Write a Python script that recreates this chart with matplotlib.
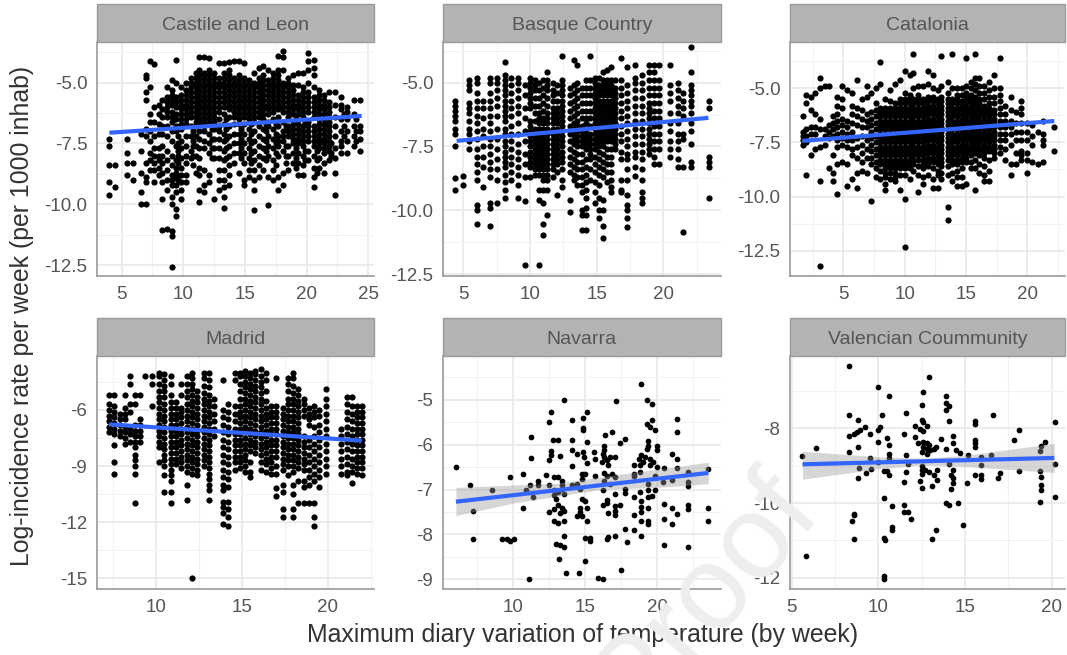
import matplotlib
matplotlib.use('Agg')
import matplotlib.pyplot as plt
from matplotlib.patches import Rectangle
from matplotlib.ticker import AutoMinorLocator

plt.rcParams['font.family'] = ['Liberation Sans', 'DejaVu Sans']
plt.rcParams['axes.unicode_minus'] = False

# values, (x, [y values at that x])
castile_cols = [
    (4.0, [-7.3, -7.6, -8.4, -9.1, -9.6]), (4.5, [-8.4, -9.3]), (5.4, [-7.3, -7.9, -8.3, -8.8]), (5.9, [-8.3, -9.0]),
    (6.6, [-7.1, -7.8, -8.7, -9.5, -10.0]), (7.0, [-4.7, -4.8, -5.4, -5.7, -6.9, -7.2, -8.3, -8.9, -9.1, -10.0]),
    (7.3, [-4.1, -5.2, -6.3, -6.6, -7.0, -7.4, -7.9, -8.2, -8.6]), (7.6, [-4.25, -6.0, -6.6, -7.2, -7.7, -8.0, -8.3, -8.6, -9.1]),
    (8.0, [-5.9, -6.3, -6.7, -7.1, -7.7, -8.0, -8.2, -8.5, -8.8]),
    (8.3, [-5.7, -6.1, -6.4, -6.8, -7.1, -7.6, -8.0, -8.3, -8.7, -9.1, -9.8, -11.05]),
    (8.7, [-5.2, -5.6, -5.8, -6.0, -6.2, -6.4, -6.8, -7.2, -7.8, -8.2, -8.6, -9.0, -9.4, -11.0]),
    (9.1, [-4.9, -5.3, -5.5, -5.7, -5.9, -6.2, -6.4, -6.6, -7.0, -7.4, -8.0, -8.4, -8.8, -9.0, -9.2, -9.7, -10.0, -11.1, -11.3, -12.6]),
    (9.4, [-4.05, -5.0, -5.6, -5.8, -6.0, -6.3, -6.5, -6.8, -7.0, -7.6, -8.2, -8.5, -8.7, -8.9, -9.2, -9.5, -10.2, -10.5]),
    (9.8, [-5.2, -5.5, -5.7, -5.9, -6.1, -6.3, -6.5, -6.7, -6.9, -7.4, -7.7, -8.1, -8.5, -8.8, -9.1, -9.4, -9.8]),
    (10.2, [-5.0, -5.3, -5.5, -5.7, -5.9, -6.1, -6.3, -6.5, -6.7, -7.2, -7.6, -8.0, -8.3, -8.8, -9.1]),
    (10.6, [-4.8, -5.0, -5.2, -5.4, -5.6, -5.8, -6.0, -6.2, -6.4, -6.8, -7.2, -7.8, -8.1]),
    (11.0, [-4.6, -4.8, -5.0, -5.2, -5.4, -5.6, -5.8, -6.0, -6.2, -6.4, -6.6, -6.8, -7.2, -7.6, -8.0, -8.7]),
    (11.3, [-3.95, -4.5, -4.7, -4.9, -5.1, -5.3, -5.5, -5.7, -5.9, -6.1, -6.3, -6.5, -6.7, -7.0, -7.3, -7.7, -8.1, -8.5, -8.8, -9.4, -9.9]),
    (11.7, [-3.95, -4.6, -4.8, -5.0, -5.2, -5.4, -5.6, -5.8, -6.0, -6.2, -6.4, -6.6, -6.8, -7.0, -7.4, -7.7, -8.6, -9.2, -9.5]),
    (12.1, [-4.0, -4.5, -4.7, -4.9, -5.1, -5.3, -5.5, -5.7, -5.9, -6.1, -6.3, -6.5, -6.7, -7.1, -7.5, -7.9, -8.8, -9.1]),
    (12.5, [-4.6, -4.8, -5.0, -5.2, -5.4, -5.6, -5.8, -6.0, -6.2, -6.4, -6.6, -6.9, -7.3, -7.7, -8.1, -9.8]),
    (12.9, [-4.2, -4.8, -5.0, -5.2, -5.4, -5.6, -5.8, -6.0, -6.2, -6.5, -6.8, -7.0, -7.3, -7.7, -8.1, -8.6, -9.0, -9.4]),
    (13.3, [-4.2, -4.6, -4.8, -5.0, -5.2, -5.4, -5.6, -5.8, -6.0, -6.3, -6.7, -7.1, -7.4, -7.8, -8.2, -8.6, -9.0, -9.3, -9.7, -10.15]),
    (13.7, [-4.15, -4.5, -4.7, -4.9, -5.1, -5.3, -5.5, -5.7, -5.9, -6.1, -6.4, -6.8, -7.2, -7.6, -8.0, -8.4, -8.8, -9.2]),
    (14.1, [-4.1, -4.8, -5.0, -5.2, -5.4, -5.6, -5.8, -6.0, -6.2, -6.4, -6.7, -7.1, -7.5, -7.9, -8.3]),
    (14.5, [-4.1, -4.7, -4.9, -5.1, -5.3, -5.5, -5.7, -5.9, -6.1, -6.3, -6.5, -6.7, -7.1, -7.5, -7.9, -8.7]),
    (14.9, [-4.2, -4.8, -5.0, -5.2, -5.4, -5.6, -5.8, -6.0, -6.2, -6.4, -6.7, -7.1, -7.5, -7.9, -8.3, -9.0, -9.2]),
    (15.3, [-4.9, -5.1, -5.3, -5.5, -5.7, -5.9, -6.1, -6.3, -6.5, -6.9, -7.3, -7.7, -8.1, -8.6, -8.9]),
    (15.7, [-4.6, -5.0, -5.2, -5.4, -5.6, -5.8, -6.0, -6.2, -6.4, -6.6, -7.0, -7.4, -7.8, -8.2, -8.6, -9.0, -9.4, -10.25]),
    (16.1, [-4.4, -4.8, -5.0, -5.2, -5.4, -5.6, -5.8, -6.0, -6.2, -6.4, -6.8, -7.2, -7.6, -8.0, -8.4, -8.9]),
    (16.5, [-4.3, -4.7, -4.9, -5.1, -5.3, -5.5, -5.7, -5.9, -6.1, -6.3, -6.5, -6.9, -7.3, -7.7, -8.1, -8.6]),
    (16.9, [-4.5, -4.9, -5.1, -5.3, -5.5, -5.7, -5.9, -6.1, -6.3, -6.6, -6.8, -7.2, -7.6, -8.0, -8.9, -10.05]),
    (17.3, [-4.6, -4.8, -5.0, -5.2, -5.4, -5.6, -5.8, -6.0, -6.2, -6.5, -6.9, -7.3, -7.7, -8.2, -8.6, -9.0]),
    (17.7, [-3.9, -4.5, -4.7, -4.9, -5.1, -5.3, -5.5, -5.7, -5.9, -6.1, -6.4, -6.8, -7.2, -7.4, -7.6, -8.0, -8.9, -9.4]),
    (18.1, [-3.7, -3.95, -4.5, -5.0, -5.2, -5.4, -5.6, -5.8, -6.0, -6.2, -6.6, -7.0, -7.2, -7.4, -7.8, -8.7, -9.2]),
    (18.5, [-4.8, -5.0, -5.2, -5.4, -5.6, -5.8, -6.0, -6.2, -6.4, -6.8, -7.0, -7.2, -7.6, -8.0, -8.6]),
    (18.9, [-4.7, -5.1, -5.3, -5.5, -5.7, -5.9, -6.1, -6.3, -6.7, -6.9, -7.1, -7.3, -7.5, -7.9, -8.3]),
    (19.3, [-4.6, -5.1, -5.5, -5.7, -5.9, -6.1, -6.3, -6.7, -6.9, -7.1, -7.3, -7.5, -7.9, -8.3, -8.8]),
    (19.7, [-4.6, -5.2, -5.4, -5.6, -5.8, -6.0, -6.2, -6.4, -6.8, -7.0, -7.2, -7.4, -7.6, -8.0, -8.4, -8.8]),
    (20.1, [-3.8, -4.1, -4.5, -5.0, -5.4, -5.6, -5.8, -6.0, -6.2, -6.6, -6.8, -7.0, -7.2, -7.4, -7.8, -8.2]),
    (20.6, [-4.05, -4.4, -4.7, -5.2, -5.6, -5.8, -6.0, -6.2, -6.4, -6.8, -7.0, -7.2, -7.4, -7.6, -8.0, -8.5, -8.9, -9.3]),
    (21.0, [-5.3, -5.5, -5.7, -5.9, -6.1, -6.3, -6.5, -6.7, -6.9, -7.1, -7.3, -7.5, -7.7, -8.1, -8.5]),
    (21.4, [-5.5, -5.7, -5.9, -6.1, -6.3, -6.5, -6.7, -6.9, -7.1, -7.3, -7.5, -7.7, -7.9, -8.3, -8.7]),
    (21.8, [-5.4, -5.8, -6.0, -6.2, -6.4, -6.6, -6.8, -7.0, -7.2, -7.4, -7.6, -7.8, -8.2]),
    (22.3, [-5.4, -5.9, -6.4, -6.8, -7.2, -7.7, -8.1, -8.7, -9.6]),
    (22.8, [-5.6, -5.9, -6.1, -6.5, -7.0, -7.4, -7.6, -7.9]), (23.3, [-6.0, -6.2, -6.5, -7.0, -7.4, -7.9]),
    (23.8, [-5.7, -6.3, -6.8, -7.2, -7.6]), (24.3, [-5.7, -6.8, -7.0, -7.3, -7.8]),
    # lower part of the cloud
    (9.6, [-7.2, -7.5, -7.8, -8.0, -8.3, -9.0]), (10.8, [-7.0, -7.4, -7.6, -8.0, -8.4]), (12.3, [-6.9, -7.3, -7.7, -8.1]),
    (13.5, [-6.5, -6.9, -7.3, -7.7, -8.1]), (14.7, [-6.9, -7.3, -7.7, -8.1]), (15.5, [-6.7, -7.1, -7.5, -7.9, -8.3]),
    (16.7, [-6.7, -7.0, -7.4, -7.8, -8.2]), (17.5, [-6.7, -7.1, -7.5, -7.9, -8.4]), (18.3, [-6.8, -7.6, -8.0, -8.3]),
    (19.1, [-6.5, -7.7, -8.1, -8.5]), (19.9, [-6.6, -7.8, -8.2]), (20.8, [-7.8, -8.2, -8.7]), (22.0, [-7.5, -7.9, -8.0]),
    (23.0, [-6.3, -6.8, -7.2]), (24.0, [-6.5, -7.0, -7.4]),
]
basque_cols = [
    (4.4, [-5.7, -5.9, -6.1, -6.3, -6.5, -6.8, -7.0, -7.5, -8.75, -9.2]), (5.0, [-8.65, -9.0]),
    (5.4, [-4.9, -5.1, -5.3, -5.8, -6.0, -6.2, -6.5, -6.8, -7.0, -7.3, -7.6]),
    (6.0, [-4.8, -5.0, -5.4, -5.7, -6.0, -6.3, -6.6, -6.9, -7.2, -7.6, -7.9, -8.2, -8.5, -8.8, -9.8, -10.0, -10.55]),
    (6.5, [-5.7, -6.0, -6.4, -6.8, -7.1, -7.5, -7.9, -8.3, -9.1]),
    (7.0, [-4.8, -5.0, -5.4, -5.7, -6.0, -6.3, -6.6, -6.9, -7.2, -7.5, -7.8, -8.1, -8.4, -8.7, -9.7, -9.9, -10.6]),
    (7.5, [-4.8, -5.0, -5.3, -5.6, -5.9, -6.3, -6.8, -7.2, -7.6, -8.0, -8.4, -8.8, -9.7]),
    (8.1, [-4.2, -4.7, -4.9, -5.1, -5.3, -5.5, -5.7, -5.9, -6.1, -6.3, -6.5, -6.8, -7.0, -7.3, -7.5, -7.7, -7.9, -8.1, -8.3, -8.6, -8.9, -9.2, -9.5]),
    (8.6, [-4.8, -5.1, -5.4, -5.7, -6.0, -6.3, -6.7, -7.0, -7.3, -7.6, -7.9, -8.2, -8.5, -8.8]),
    (9.1, [-4.8, -5.0, -5.3, -5.6, -5.9, -6.2, -6.6, -7.0, -7.4, -7.7, -8.0, -8.3, -8.6, -9.0, -9.5]),
    (9.6, [-5.1, -5.5, -6.0, -6.4, -6.9, -7.3, -7.8, -8.2, -8.7, -9.65, -12.15]),
    (10.0, [-4.8, -5.0, -5.2, -5.4, -5.6, -5.8, -6.0, -6.5, -6.7, -6.9, -7.1, -7.3, -7.5, -7.7, -7.9, -8.1, -8.3, -8.7]),
    (10.4, [-4.9, -5.1, -5.3, -5.6, -5.9, -6.2, -6.5, -6.8, -7.0, -7.2, -7.4, -7.6, -7.8, -8.0, -8.2, -8.4, -8.6]),
    (10.7, [-5.0, -5.3, -5.6, -5.9, -6.2, -6.4, -6.6, -6.8, -7.0, -7.2, -7.4, -7.6, -7.8, -8.0, -8.2, -8.4, -8.6, -9.2, -9.6, -12.15]),
    (10.95, [-4.9, -5.2, -5.5, -5.8, -6.1, -6.4, -6.6, -6.8, -7.0, -7.2, -7.4, -7.6, -7.8, -8.0, -8.2, -8.4, -8.6, -8.8, -9.2, -9.7, -10.55, -10.95]),
    (11.3, [-4.6, -4.9, -5.1, -5.3, -5.6, -5.9, -6.2, -6.4, -6.6, -6.8, -7.0, -7.2, -7.4, -7.6, -7.8, -8.0, -8.2, -8.4, -8.6, -8.8, -9.2, -10.2]),
    (11.7, [-5.0, -5.3, -5.5, -5.7, -6.0, -6.2, -6.4, -6.6, -6.8, -7.0, -7.2, -7.4, -7.6, -7.8, -8.0, -8.2, -8.4, -8.7]),
    (12.0, [-5.1, -5.4, -5.7, -6.0, -6.2, -6.4, -6.6, -6.8, -7.0, -7.2, -7.4, -7.6, -7.8, -8.0, -8.2, -8.5, -9.4]),
    (12.4, [-3.95, -4.9, -5.1, -5.3, -5.5, -5.7, -5.9, -6.1, -6.3, -6.5, -6.7, -6.9, -7.1, -7.3, -7.5, -7.7, -7.9, -8.1, -8.4, -8.8, -9.1]),
    (13.0, [-5.2, -5.5, -5.8, -6.1, -6.4, -6.7, -7.0, -7.3, -7.6, -7.9, -8.2, -8.5, -9.6, -10.05]),
    (13.3, [-4.1, -5.1, -5.4, -5.7, -6.0, -6.3, -6.6, -6.8, -7.0, -7.2, -7.4, -7.7, -8.0, -8.3, -8.6, -8.8]),
    (13.5, [-4.3, -5.0, -5.3, -5.6, -5.9, -6.2, -6.5, -6.7, -6.9, -7.1, -7.3, -7.5, -7.8, -8.1, -8.4, -8.7, -9.0]),
    (13.9, [-5.2, -5.5, -5.8, -6.1, -6.4, -6.7, -6.9, -7.1, -7.3, -7.5, -7.8, -8.1, -8.4, -8.7, -9.0, -9.3, -10.0, -10.2, -10.75]),
    (14.2, [-4.9, -5.2, -5.5, -5.8, -6.1, -6.4, -6.6, -6.8, -7.0, -7.2, -7.4, -7.6, -8.0, -8.3, -8.6, -8.9, -9.2, -9.5, -9.9, -10.2, -10.75]),
    (14.5, [-3.95, -4.9, -5.2, -5.5, -5.8, -6.1, -6.4, -6.7, -7.0, -7.2, -7.4, -7.6, -7.8, -8.0, -8.4, -8.8]),
    (14.9, [-4.8, -5.0, -5.2, -5.4, -5.6, -5.8, -6.0, -6.2, -6.4, -6.6, -6.8, -7.0, -7.2, -7.4, -7.6, -7.9, -8.2, -8.5, -8.9, -9.3, -9.7]),
    (15.2, [-4.8, -5.1, -5.3, -5.5, -5.7, -5.9, -6.1, -6.3, -6.5, -6.7, -6.9, -7.1, -7.3, -7.5, -7.7, -8.0, -8.3, -8.6, -9.0, -9.5, -10.0, -10.3]),
    (15.5, [-4.6, -4.9, -5.1, -5.3, -5.5, -5.7, -5.9, -6.1, -6.3, -6.5, -6.7, -6.9, -7.1, -7.3, -7.5, -7.8, -8.1, -8.4, -8.7, -9.6, -10.0, -10.6, -11.1]),
    (15.8, [-4.5, -4.9, -5.1, -5.3, -5.5, -5.7, -5.9, -6.1, -6.3, -6.5, -6.7, -6.9, -7.1, -7.3, -7.6, -7.9, -8.2, -8.5, -8.9]),
    (16.1, [-4.4, -4.9, -5.1, -5.3, -5.5, -5.7, -5.9, -6.1, -6.3, -6.5, -6.7, -6.9, -7.1, -7.3, -7.6, -7.9, -8.2, -8.5, -8.8, -9.1, -9.3]),
    (16.4, [-4.9, -5.2, -5.4, -5.6, -5.8, -6.0, -6.2, -6.4, -6.6, -6.8, -7.0, -7.2, -7.4, -7.6]),
    (16.8, [-4.05, -4.9, -5.2, -5.5, -5.8, -6.1, -6.4, -6.7, -7.0, -7.3, -7.7, -8.0, -8.8, -9.2, -9.3]),
    (17.3, [-4.4, -5.1, -5.4, -5.7, -6.0, -6.3, -6.6, -6.9, -7.2, -7.5, -7.8, -8.0, -8.4, -8.8, -9.4, -9.8, -10.0, -10.3, -10.65]),
    (17.9, [-4.3, -4.8, -5.0, -5.3, -5.6, -5.9, -6.2, -6.5, -6.8, -7.1, -7.4, -7.7, -7.9, -8.3, -8.65]),
    (18.4, [-4.7, -5.0, -5.3, -5.6, -5.9, -6.2, -6.5, -6.8, -7.1, -7.4, -7.7, -8.0, -8.4, -8.8, -9.3, -9.5, -9.7]),
    (18.9, [-4.3, -4.6, -4.9, -5.2, -5.5, -5.8, -6.0, -6.2, -6.4, -6.6, -6.8, -7.0, -7.2, -7.4, -7.6, -7.8]),
    (19.3, [-4.3, -4.6, -4.9, -5.2, -5.5, -5.8, -6.1, -6.4, -6.7, -7.0, -7.3, -7.6, -7.9, -8.2]),
    (19.7, [-4.3, -4.9, -5.2, -5.5, -5.8, -6.1, -6.4, -6.7, -7.0, -7.3, -7.6, -8.2]),
    (20.5, [-4.3, -5.1, -5.4, -5.7, -6.2, -6.6, -6.9, -7.3, -7.6, -7.9]),
    (21.1, [-5.0, -5.3, -5.6, -5.9, -6.2, -6.6, -7.0, -7.3, -7.6, -8.0, -8.3]),
    (21.5, [-5.4, -5.7, -6.0, -6.3, -7.0, -7.2, -8.3, -10.85]),
    (22.1, [-3.6, -4.6, -5.1, -5.3, -5.5, -5.7, -5.9, -6.2, -6.6, -6.9, -7.4, -8.1, -8.3]),
    (23.4, [-5.7, -6.0, -7.9, -8.1, -8.3, -9.5]),
]
catalonia_cols = [
    (1.7, [-6.3, -7.0, -7.2, -7.4, -7.6]), (2.0, [-5.3, -5.7, -6.9, -7.2, -7.5, -9.0]), (2.4, [-5.4, -6.0, -6.8, -7.1, -8.1]),
    (2.7, [-5.2, -6.2, -6.8, -7.1, -7.8]), (3.1, [-4.5, -5.0, -6.4, -6.9, -7.7, -9.3, -13.2]), (3.5, [-4.9, -6.9, -7.2, -7.6]),
    (3.8, [-4.9, -6.7, -7.0, -7.3, -8.7]), (4.2, [-6.3, -6.6, -6.9, -7.2, -8.1, -8.9, -9.3]),
    (4.5, [-5.4, -5.8, -6.2, -6.5, -6.8, -7.1, -7.4, -7.7, -8.5, -9.9]), (4.9, [-4.9, -5.5, -5.9, -6.4, -6.7, -7.0, -7.3, -7.6, -8.4]),
    (5.3, [-5.1, -6.5, -6.8, -7.1, -7.4, -7.7, -8.5, -9.5]), (5.7, [-5.2, -5.8, -6.2, -6.6, -7.0, -7.4, -7.8, -8.1, -9.2]),
    (6.1, [-4.6, -5.9, -6.3, -6.7, -7.3, -7.7, -8.2, -8.9, -9.6]), (6.5, [-5.5, -6.0, -6.4, -6.8, -7.2, -7.6, -8.0, -8.4, -8.8]),
    (6.9, [-4.9, -5.4, -6.2, -6.5, -6.8, -7.4, -7.8, -8.2, -8.9]), (7.3, [-5.2, -6.1, -6.4, -6.7, -7.0, -7.3, -7.6, -7.9, -8.2, -8.5, -10.2]),
    (7.7, [-5.0, -5.7, -6.0, -6.3, -6.6, -6.9, -7.2, -7.5, -7.8, -8.1, -8.4, -8.7, -9.1]),
    (8.0, [-3.8, -4.8, -5.9, -6.1, -6.3, -6.5, -6.7, -6.9, -7.1, -7.3, -7.5, -7.7, -7.9, -8.1, -8.3, -8.5, -8.8, -9.2]),
    (8.4, [-5.5, -5.9, -6.1, -6.3, -6.5, -6.7, -6.9, -7.1, -7.3, -7.5, -7.7, -7.9, -8.1, -8.3, -8.5, -8.7, -8.9, -9.1, -9.4, -9.7]),
    (8.8, [-5.1, -5.6, -5.9, -6.1, -6.3, -6.5, -6.7, -6.9, -7.1, -7.3, -7.5, -7.7, -7.9, -8.1, -8.3, -8.5, -8.7, -8.9, -9.2]),
    (9.2, [-4.8, -5.7, -5.9, -6.1, -6.3, -6.5, -6.7, -6.9, -7.1, -7.3, -7.5, -7.7, -7.9, -8.1, -8.3, -8.5, -8.7, -8.9, -9.1, -9.3]),
    (9.6, [-4.6, -5.5, -5.7, -5.9, -6.1, -6.3, -6.5, -6.7, -6.9, -7.1, -7.3, -7.5, -7.7, -7.9, -8.1, -8.3, -8.5, -8.7, -9.0, -9.7]),
    (10.0, [-4.2, -5.2, -5.5, -5.7, -5.9, -6.1, -6.3, -6.5, -6.7, -6.9, -7.1, -7.3, -7.5, -7.7, -7.9, -8.1, -8.3, -8.5, -8.7, -9.0, -10.1, -12.35]),
    (10.4, [-4.4, -5.3, -5.5, -5.7, -5.9, -6.1, -6.3, -6.5, -6.7, -6.9, -7.1, -7.3, -7.5, -7.7, -7.9, -8.1, -8.3, -8.5, -8.7, -9.2]),
    (10.7, [-3.4, -4.3, -5.0, -5.5, -5.7, -5.9, -6.1, -6.3, -6.5, -6.7, -6.9, -7.1, -7.3, -7.5, -7.7, -7.9, -8.1, -8.3, -8.5, -8.8]),
    (11.1, [-4.9, -5.3, -5.5, -5.7, -5.9, -6.1, -6.3, -6.5, -6.7, -6.9, -7.1, -7.3, -7.5, -7.7, -7.9, -8.1, -8.3, -8.6, -9.0, -9.8]),
    (11.5, [-4.9, -5.5, -5.7, -5.9, -6.1, -6.3, -6.5, -6.7, -6.9, -7.1, -7.3, -7.5, -7.7, -7.9, -8.1, -8.3, -8.5, -8.7, -9.1, -9.4]),
    (11.9, [-4.2, -4.8, -5.4, -5.6, -5.8, -6.0, -6.2, -6.4, -6.6, -6.8, -7.0, -7.2, -7.4, -7.6, -7.8, -8.0, -8.2, -8.4, -8.6, -9.0]),
    (12.3, [-4.4, -5.0, -5.4, -5.6, -5.8, -6.0, -6.2, -6.4, -6.6, -6.8, -7.0, -7.2, -7.4, -7.6, -7.8, -8.0, -8.2, -8.4, -8.7, -9.2, -9.6]),
    (12.7, [-5.1, -5.5, -5.7, -5.9, -6.1, -6.3, -6.5, -6.7, -6.9, -7.1, -7.3, -7.5, -7.7, -7.9, -8.1, -8.3, -8.5, -8.8, -9.0, -9.6]),
    (13.0, [-3.5, -4.9, -5.4, -5.6, -5.8, -6.0, -6.2, -6.4, -6.6, -6.8, -7.0, -7.2, -7.4, -7.6, -7.8, -8.0, -8.2, -8.4, -8.6, -8.9, -9.2]),
    (13.5, [-4.7, -5.2, -5.5, -5.7, -5.9, -6.1, -6.3, -6.5, -6.7, -6.9, -7.1, -7.3, -7.5, -7.7, -7.9, -8.1, -8.3, -8.6, -9.0, -10.5, -11.1]),
    (13.9, [-3.4, -5.0, -5.5, -5.7, -5.9, -6.1, -6.3, -6.5, -6.7, -6.9, -7.1, -7.3, -7.5, -7.7, -7.9, -8.1, -8.3, -8.5, -8.9, -9.3]),
    (14.3, [-5.0, -5.3, -5.5, -5.7, -5.9, -6.1, -6.3, -6.5, -6.7, -6.9, -7.1, -7.3, -7.5, -7.7, -7.9, -8.1, -8.3, -8.5, -8.8, -9.1, -9.5]),
    (14.7, [-5.0, -5.3, -5.6, -5.8, -6.0, -6.2, -6.4, -6.6, -6.8, -7.0, -7.2, -7.4, -7.6, -7.8, -8.0, -8.2, -8.4, -8.7, -9.1, -9.5]),
    (15.0, [-3.6, -4.9, -5.2, -5.4, -5.6, -5.8, -6.0, -6.2, -6.4, -6.6, -6.8, -7.0, -7.2, -7.4, -7.6, -7.8, -8.0, -8.2, -8.4, -9.4]),
    (15.4, [-4.7, -5.0, -5.3, -5.5, -5.7, -5.9, -6.1, -6.3, -6.5, -6.7, -6.9, -7.1, -7.3, -7.5, -7.7, -7.9, -8.1, -8.4, -8.7]),
    (15.7, [-3.4, -4.5, -4.8, -5.1, -5.4, -5.6, -5.8, -6.0, -6.2, -6.4, -6.6, -6.8, -7.0, -7.2, -7.4, -7.6, -7.8, -8.0, -8.3, -8.7, -9.7]),
    (16.1, [-4.5, -4.9, -5.2, -5.5, -5.7, -5.9, -6.1, -6.3, -6.5, -6.7, -6.9, -7.1, -7.3, -7.5, -7.7, -7.9, -8.1, -8.5, -8.9]),
    (16.5, [-4.9, -5.2, -5.5, -5.8, -6.0, -6.2, -6.4, -6.6, -6.8, -7.0, -7.2, -7.4, -7.6, -7.8, -8.0, -8.2, -8.6, -9.0, -9.3]),
    (16.9, [-4.7, -5.1, -5.4, -5.7, -5.9, -6.1, -6.3, -6.5, -6.7, -6.9, -7.1, -7.3, -7.5, -7.7, -7.9, -8.3, -8.8, -9.3]),
    (17.3, [-4.4, -5.0, -5.4, -5.7, -6.0, -6.2, -6.4, -6.6, -6.8, -7.0, -7.2, -7.4, -7.6, -7.8, -8.0, -8.2]),
    (17.8, [-3.6, -5.0, -5.3, -5.6, -5.9, -6.2, -6.5, -6.8, -7.1, -7.4, -7.7, -8.0]),
    (18.2, [-5.8, -6.2, -6.5, -6.8, -7.1, -7.4, -7.8, -8.3]), (18.7, [-5.4, -6.0, -6.5, -6.8, -7.1, -7.6, -8.5, -9.0]),
    (19.1, [-6.1, -6.6, -7.0, -7.4, -8.0, -8.5]), (19.5, [-5.6, -5.9, -6.2, -6.6, -7.0, -7.4, -7.9, -8.1, -8.3]),
    (20.0, [-6.6, -7.0, -7.4, -8.0, -8.3, -8.9]), (20.4, [-6.7, -7.2, -7.6, -8.4]), (20.9, [-7.0, -8.5]),
    (21.3, [-6.5, -7.1, -7.4, -7.6, -8.4]), (22.2, [-6.8, -7.9]),
]
madrid_cols = [
    (7.3, [-5.2, -5.7, -6.0, -6.3, -6.6, -6.9, -7.2]), (7.6, [-5.2, -5.8, -6.1, -6.4, -6.7, -7.0, -7.3, -7.9, -8.8, -9.4]),
    (7.9, [-6.2, -6.5, -6.8, -7.1, -7.4]), (8.2, [-5.2, -5.9, -6.2, -6.5, -6.9, -7.2, -7.5, -7.8]),
    (8.5, [-4.2, -4.6, -5.7, -6.1, -7.0, -7.3, -7.7]), (8.8, [-5.2, -5.7, -6.8, -7.1, -7.4, -7.7, -8.0, -8.4, -8.7, -9.0, -9.4, -11.0]),
    (9.1, [-5.2, -6.5, -6.8, -7.1, -7.4, -7.7]), (9.4, [-4.2]), (9.8, [-4.2, -4.6, -5.8]),
    (10.2, [-4.0, -4.2, -4.6, -5.0, -5.3, -5.6, -5.9, -6.2, -6.5, -6.8, -7.1, -7.4, -7.7, -8.0, -8.8]),
    (10.5, [-4.1, -4.4, -4.7, -5.0, -5.3, -5.7, -6.0, -6.3, -6.6, -6.9, -7.2, -7.5, -7.8, -8.1, -8.4, -8.7, -9.0, -9.5, -10.4]),
    (10.9, [-4.2, -4.6, -5.2, -5.6, -5.9, -6.2, -6.5, -6.8, -7.1, -7.4, -7.7, -8.0, -8.3, -8.6, -8.9, -9.2, -9.5, -9.8, -10.4, -11.0]),
    (11.2, [-5.6, -5.9, -6.2, -6.5, -6.8, -7.1, -7.4, -7.7, -8.0, -8.3, -8.6, -8.9]),
    (11.5, [-4.6, -5.2, -5.9, -6.1, -6.4, -6.7, -7.0, -7.3, -7.6, -7.9, -8.2, -8.5, -8.8, -9.1]),
    (11.8, [-4.2, -4.6, -5.0, -5.3, -5.7, -6.0, -6.3, -6.6, -6.9, -7.2, -7.5, -7.8, -8.1, -8.4, -8.7, -9.0, -9.3, -10.0, -10.8]),
    (12.1, [-4.0, -4.3, -4.6, -4.9, -5.2, -5.5, -5.8, -6.1, -6.4, -6.7, -7.0, -7.3, -7.6, -7.9, -8.2, -8.5, -8.8, -9.1, -9.4, -15.0]),
    (12.4, [-5.0, -5.3, -5.6, -5.9, -6.2, -6.5, -6.8, -7.1, -7.4, -7.7, -8.0, -8.3, -8.6, -8.9, -9.2, -9.5]),
    (12.8, [-4.0, -4.3, -4.7, -5.1, -5.4, -5.7, -6.0, -6.3, -6.6, -6.9, -7.2, -7.5, -7.8, -8.1, -8.4, -8.7, -9.0]),
    (13.1, [-4.0, -4.4, -4.8, -5.2, -5.5, -5.8, -6.1, -6.4, -6.7, -7.0, -7.3, -7.6, -7.9, -8.2, -8.5, -8.8, -9.1, -9.4, -9.7, -10.0, -10.3, -10.8]),
    (13.4, [-5.4, -5.8, -6.2, -6.6, -7.0, -7.4]),
    (13.9, [-4.4, -6.0, -6.4, -6.8, -7.2, -7.6, -8.0, -8.4, -8.8, -9.2, -9.6, -10.0, -10.3, -10.9, -11.2, -11.5, -12.1]),
    (14.2, [-5.7, -6.1, -6.5, -6.9, -7.3, -7.7, -8.1, -8.5, -8.9, -9.3, -9.7, -10.1, -10.9, -11.3, -11.7, -12.2]),
    (14.6, [-4.0, -4.4, -5.8, -6.2, -6.6, -7.0, -7.3, -7.6, -7.9, -8.2, -8.5, -8.8, -9.2]),
    (14.9, [-4.0, -4.2, -4.6, -5.0, -5.4, -5.8, -6.1, -6.4, -6.7, -7.0, -7.3, -7.6, -7.9, -8.2, -8.5, -8.8, -9.1]),
    (15.2, [-3.9, -4.2, -4.5, -4.8, -5.1, -5.4, -5.7, -6.0, -6.3, -6.6, -6.9, -7.2, -7.5, -7.8, -8.1, -8.4, -8.7, -9.0, -9.3]),
    (15.5, [-4.0, -4.3, -4.6, -4.9, -5.2, -5.5, -5.8, -6.1, -6.4, -6.7, -7.0, -7.3, -7.6, -7.9, -8.2, -8.8, -9.3, -9.6]),
    (15.8, [-3.9, -4.1, -4.4, -4.7, -5.0, -5.3, -5.6, -5.9, -6.2, -6.5, -6.8, -7.1, -7.4, -7.7, -8.0, -8.3]),
    (16.1, [-3.8, -4.2, -4.5, -4.8, -5.1, -5.4, -5.7, -6.0, -6.3, -6.6, -6.9, -7.2, -7.5, -7.8, -8.1, -8.4, -8.8, -9.2]),
    (16.4, [-4.0, -4.4, -5.0, -5.5, -5.9, -6.2, -6.5, -6.8, -7.1, -7.4, -7.7, -8.0, -8.3, -8.6, -8.9, -9.3]),
    (16.7, [-5.8, -6.1, -6.4, -6.7, -7.0, -7.3, -7.6, -7.9, -8.2, -8.5, -8.8, -9.1, -9.4]),
    (17.0, [-4.3, -5.8, -6.1, -6.4, -6.7, -7.0, -7.3, -7.6, -7.9, -8.2, -8.5, -9.0, -9.4, -10.2, -10.6]),
    (17.4, [-5.9, -6.2, -6.5, -6.8, -7.1, -7.4, -7.7, -8.0, -8.3, -8.6, -8.9, -9.2, -10.0, -10.4, -11.3, -11.7]),
    (17.7, [-4.3, -4.6, -5.0, -5.4, -5.7, -6.0, -6.3, -6.6, -6.9, -7.2, -7.5, -7.8, -8.1, -8.4, -8.7, -9.0, -9.5]),
    (18.0, [-4.0, -4.3, -4.7, -5.1, -5.4, -5.7, -6.0, -6.3, -6.6, -6.9, -7.2, -7.5, -7.8, -8.1, -8.4, -8.7, -9.0, -9.3, -10.0, -10.5, -11.3, -11.7]),
    (18.3, [-4.9, -5.2, -5.5, -5.8, -6.1, -6.4, -6.7, -7.0, -7.3, -7.6, -7.9, -8.2, -8.5, -8.8, -9.1, -9.8, -11.0]),
    (18.6, [-5.4, -5.7, -6.0, -6.3, -7.4, -7.7, -8.0, -8.3, -8.6, -8.9, -9.2, -9.8, -10.1, -11.0]),
    (18.9, [-5.9, -6.2, -6.5, -6.8, -7.6, -8.0, -8.4, -8.8, -9.2, -9.6, -10.0, -11.0]),
    (19.2, [-5.8, -6.1, -6.4, -6.9, -7.4, -7.8, -8.2, -8.6, -9.0, -9.4, -9.8, -11.0, -11.7, -12.2]),
    (19.5, [-6.0, -6.3, -6.8, -7.2, -7.6, -8.0, -8.4, -8.8, -9.2, -9.6, -10.1]),
    (19.9, [-4.9, -5.4, -5.8, -6.2, -6.6, -7.0, -7.4, -7.8, -8.2, -8.6, -9.0, -9.4]),
    (20.8, [-7.0, -7.4, -7.8, -8.2, -8.6, -9.0, -9.4]), (21.1, [-5.3, -5.7, -6.1, -6.5, -6.9, -7.3, -7.7, -8.1, -8.5, -8.9, -9.3, -9.5]),
    (21.4, [-5.3, -5.8, -6.2, -6.6, -7.0, -7.4, -7.8, -8.2, -8.6, -9.0, -9.3, -9.9]),
    (21.7, [-5.8, -6.1, -6.4, -6.7, -7.0, -7.3, -7.6, -7.9, -8.2, -8.5, -8.8, -9.1, -9.4]),
    (22.0, [-5.8, -6.1, -6.4, -6.7, -7.0, -7.3, -7.6, -7.9, -8.2, -8.5, -8.8, -9.1, -9.5]),
]
navarra_pts = [
    (18.9, -4.64), (19.3, -5.0), (19.65, -5.1), (17.1, -5.03), (13.5, -5.0), (12.65, -5.28), (12.45, -5.49), (15.1, -5.27),
    (14.85, -5.41), (14.05, -5.45), (21.35, -5.42), (19.65, -5.45), (19.25, -5.53), (19.5, -5.6), (19.85, -5.67), (21.35, -5.71),
    (14.85, -5.62), (14.85, -5.68), (11.25, -5.83), (12.75, -5.9), (13.1, -5.9), (14.05, -5.9), (15.1, -5.95), (16.35, -5.79),
    (16.85, -5.72), (17.75, -5.87), (17.4, -5.96), (19.35, -5.92), (19.35, -6.02), (19.25, -6.09), (19.95, -6.02), (19.95, -6.13),
    (14.05, -6.11), (12.65, -6.15), (15.6, -6.17), (14.85, -6.17), (16.3, -6.02), (16.3, -6.13), (21.05, -6.2), (21.35, -6.31),
    (11.25, -6.29), (12.65, -6.24), (12.45, -6.35), (13.25, -6.25), (14.45, -6.2), (14.9, -6.28), (15.65, -6.31), (16.2, -6.2),
    (16.3, -6.28), (16.5, -6.35), (16.7, -6.28), (17.05, -6.28), (16.15, -6.39), (16.6, -6.46), (18.9, -6.22), (19.15, -6.28),
    (18.7, -6.31), (19.5, -6.31), (19.0, -6.39), (19.7, -6.39), (18.35, -6.46), (18.8, -6.46), (19.5, -6.46), (19.95, -6.49),
    (6.0, -6.49), (14.05, -6.47), (15.1, -6.41), (20.45, -6.52), (21.35, -6.52), (23.55, -6.55), (22.15, -6.61), (10.7, -6.65),
    (9.75, -6.72), (12.25, -6.67), (12.8, -6.72), (13.1, -6.72), (13.4, -6.8), (14.75, -6.65), (15.0, -6.65), (14.75, -6.76),
    (15.65, -6.7), (16.3, -6.63), (16.5, -6.7), (16.85, -6.65), (17.05, -6.72), (18.35, -6.65), (18.35, -6.7), (18.8, -6.61),
    (19.85, -6.7), (20.4, -6.83), (21.0, -6.78), (11.75, -6.8), (11.75, -6.89), (11.15, -6.89), (12.45, -6.89), (14.05, -6.89),
    (14.4, -6.87), (14.65, -6.99), (13.4, -6.89), (13.4, -6.99), (16.3, -6.8), (16.7, -6.87), (19.35, -6.87), (22.15, -6.84),
    (22.15, -6.93), (7.0, -6.9), (8.55, -7.01), (10.9, -7.0), (11.4, -7.17), (12.8, -7.02), (12.8, -7.13), (13.1, -7.06),
    (13.5, -7.1), (16.25, -7.01), (17.75, -6.99), (17.75, -7.08), (17.05, -7.1), (18.8, -7.06), (19.35, -7.02), (19.85, -7.02),
    (19.35, -7.16), (19.6, -7.14), (18.35, -7.17), (13.0, -7.21), (14.75, -7.21), (15.0, -7.25), (16.5, -7.23), (18.9, -7.25),
    (20.45, -7.32), (22.15, -7.34), (22.15, -7.43), (7.2, -7.47), (10.7, -7.41), (12.45, -7.49), (12.8, -7.43), (13.1, -7.34),
    (13.4, -7.4), (13.5, -7.47), (13.25, -7.52), (14.65, -7.41), (15.1, -7.41), (14.65, -7.51), (14.4, -7.58), (14.75, -7.58),
    (16.25, -7.34), (16.5, -7.31), (17.05, -7.36), (17.4, -7.34), (17.05, -7.47), (17.05, -7.56), (16.6, -7.52), (18.9, -7.39),
    (19.35, -7.42), (18.9, -7.51), (18.35, -7.56), (18.9, -7.69), (19.35, -7.69), (19.35, -7.77), (21.05, -7.42), (21.35, -7.54),
    (21.05, -7.77), (20.45, -7.66), (23.55, -7.41), (23.55, -7.71), (12.8, -7.71), (13.1, -7.75), (13.5, -7.69), (15.1, -7.71),
    (7.2, -8.1), (9.2, -8.1), (9.55, -8.1), (9.75, -8.14), (10.05, -8.1), (13.5, -8.03), (15.0, -8.08), (15.35, -8.14),
    (15.35, -8.08), (16.5, -8.1), (16.6, -8.05), (17.05, -8.04), (17.75, -7.88), (18.35, -7.9), (18.85, -8.04), (17.9, -8.16),
    (20.45, -8.24), (22.15, -8.27), (13.0, -8.21), (13.5, -8.27), (13.25, -8.24), (13.15, -8.55), (15.0, -8.6), (13.65, -8.85),
    (14.55, -8.85), (17.45, -8.78), (11.1, -8.98), (15.85, -8.97), (16.2, -9.0),
]
valencia_pts = [
    (8.3, -6.33), (12.9, -6.62), (10.0, -6.9), (10.6, -7.12), (12.6, -7.02), (12.5, -7.38), (13.9, -7.13), (13.9, -7.33),
    (14.1, -7.39), (13.9, -7.51), (11.6, -7.59), (10.2, -7.65), (8.3, -7.65), (8.8, -7.76), (12.5, -7.76), (12.6, -7.82),
    (14.1, -7.79), (15.6, -7.79), (15.6, -7.87), (16.6, -7.65), (20.2, -7.84), (18.1, -8.04), (9.2, -7.95), (8.95, -8.03),
    (8.75, -8.09), (8.6, -8.15), (8.3, -8.19), (9.5, -8.15), (10.1, -7.97), (10.0, -8.04), (10.0, -8.35), (10.5, -8.26),
    (10.6, -8.45), (11.5, -8.16), (12.1, -7.94), (12.4, -8.01), (12.8, -7.94), (12.6, -8.06), (12.1, -8.22), (12.3, -8.38),
    (12.6, -8.36), (12.8, -8.4), (12.9, -8.45), (12.6, -8.49), (12.8, -8.54), (13.0, -8.58), (12.5, -8.63), (12.8, -8.69),
    (13.2, -8.54), (13.3, -8.49), (13.6, -8.29), (14.3, -8.19), (14.3, -8.38), (13.9, -8.54), (14.5, -8.58), (14.7, -8.67),
    (15.2, -8.7), (15.6, -8.31), (15.6, -8.4), (15.6, -8.51), (17.8, -8.31), (19.6, -8.35), (19.4, -8.46), (19.3, -8.6),
    (16.5, -8.72), (15.9, -8.77), (15.9, -8.98), (6.4, -8.52), (5.6, -8.75), (8.3, -8.62), (8.8, -8.51), (10.6, -8.69),
    (10.6, -8.78), (11.6, -8.7), (9.5, -8.8), (8.9, -9.05), (9.6, -9.09), (9.3, -9.2), (8.8, -9.34), (10.0, -8.89),
    (10.3, -9.13), (10.5, -9.13), (10.6, -9.25), (11.7, -8.94), (11.6, -9.16), (11.5, -9.43), (12.5, -9.01), (12.5, -9.12),
    (12.7, -9.1), (12.9, -9.16), (12.5, -9.22), (13.2, -9.25), (13.4, -9.12), (13.4, -9.38), (12.4, -9.4), (12.5, -9.6),
    (13.1, -9.54), (14.1, -8.94), (14.3, -9.1), (14.2, -9.25), (14.3, -9.34), (14.3, -9.46), (14.2, -9.63), (15.1, -9.47),
    (15.6, -9.25), (15.9, -9.25), (15.9, -9.36), (17.0, -9.2), (16.9, -9.32), (18.1, -9.15), (19.3, -9.13), (19.4, -9.29),
    (19.4, -9.51), (19.4, -9.65), (19.3, -9.97), (20.2, -8.96), (20.2, -9.83), (10.3, -9.85), (10.8, -10.08), (11.5, -10.04),
    (11.5, -10.23), (11.7, -10.24), (11.9, -10.42), (13.9, -9.99), (14.1, -10.04), (14.6, -9.99), (14.9, -10.58), (8.6, -10.28),
    (8.6, -10.32), (8.5, -10.47), (8.6, -10.96), (10.8, -10.63), (10.8, -10.72), (10.3, -10.93), (10.4, -10.99), (13.3, -10.72),
    (13.1, -10.95), (5.8, -11.43), (10.3, -11.96), (10.3, -12.03),
]
titles = ['Castile and Leon', 'Basque Country', 'Catalonia', 'Madrid', 'Navarra', 'Valencian Coummunity']
xlims = [(3.0, 25.46), (3.48, 24.3), (0.66, 23.07), (6.59, 22.69), (5.12, 24.4), (4.9, 20.77)]
ylims = [(-12.95, -3.33), (-12.57, -3.41), (-13.67, -2.86), (-15.59, -3.1), (-9.22, -4.02), (-12.31, -6.05)]
xticks = [[5, 10, 15, 20, 25], [5, 10, 15, 20], [5, 10, 15, 20], [10, 15, 20], [10, 15, 20], [5, 10, 15, 20]]
yticks = [[-5, -7.5, -10, -12.5], [-5, -7.5, -10, -12.5], [-5, -7.5, -10, -12.5], [-6, -9, -12, -15], [-5, -6, -7, -8, -9], [-8, -10, -12]]
ylabels = [['-5.0', '-7.5', '-10.0', '-12.5']] * 3 + [['-6', '-9', '-12', '-15'], ['-5', '-6', '-7', '-8', '-9'], ['-8', '-10', '-12']]
fit_x = [(4.0, 24.46), (4.5, 23.38), (1.66, 22.2), (7.3, 21.98), (6.02, 23.54), (5.62, 20.15)]
fit_y = [(-7.06, -6.37), (-7.28, -6.38), (-7.43, -6.51), (-6.77, -7.64), (-7.27, -6.63), (-8.96, -8.79)]
nav_band_x = [6.02, 10, 13, 16, 20, 23.54]
nav_band_lo = [-7.58, -7.3, -7.15, -7.0, -6.95, -6.87]
nav_band_hi = [-6.95, -6.9, -6.86, -6.72, -6.55, -6.39]
val_band_x = [5.62, 10, 12.5, 15, 20.15]
val_band_lo = [-9.36, -9.08, -8.98, -9.02, -9.18]
val_band_hi = [-8.61, -8.76, -8.8, -8.72, -8.4]


def flatten(cols):
    xs, ys = [], []
    for x, col in cols:
        xs += [x] * len(col)
        ys += col
    return xs, ys


series = [flatten(castile_cols), flatten(basque_cols), flatten(catalonia_cols), flatten(madrid_cols),
          list(zip(*navarra_pts)), list(zip(*valencia_pts))]
bands = {4: (nav_band_x, nav_band_lo, nav_band_hi), 5: (val_band_x, val_band_lo, val_band_hi)}
dot_sizes = [20, 20, 20, 20, 17, 17]

W, H = 1067, 655
fig = plt.figure(figsize=[W / 100, H / 100], dpi=100)
lefts = [97, 443, 790]
rights = [374, 720.7, 1065]
rows = [(4.3, 42, 276), (317.7, 355.7, 589.3)]

for i in range(6):
    c = i % 3
    strip_top, top, bottom = rows[i // 3]
    ax = fig.add_axes([lefts[c] / W, 1 - bottom / H, (rights[c] - lefts[c]) / W, (bottom - top) / H])
    ax.set_xlim(xlims[i])
    ax.set_ylim(ylims[i])
    ax.set_xticks(xticks[i])
    ax.set_yticks(yticks[i])
    ax.set_yticklabels(ylabels[i])
    ax.xaxis.set_minor_locator(AutoMinorLocator(2))
    ax.yaxis.set_minor_locator(AutoMinorLocator(2))
    ax.set_axisbelow(True)
    ax.grid(which='major', color='#ebebeb', lw=1.3)
    ax.grid(which='minor', color='#f2f2f2', lw=0.8)
    ax.tick_params(which='both', length=0)
    ax.tick_params(labelsize=13.5, labelcolor='#555555', pad=7)
    for side in ['top', 'right']:
        ax.spines[side].set_visible(False)
    for side in ['left', 'bottom']:
        ax.spines[side].set_color('#999999')
        ax.spines[side].set_linewidth(1.2)

    ax.scatter(series[i][0], series[i][1], s=dot_sizes[i], color='black', linewidths=0, zorder=2)
    if i in bands:
        ax.fill_between(bands[i][0], bands[i][1], bands[i][2], color='#999999', alpha=0.4, lw=0, zorder=3)
    ax.plot(fit_x[i], fit_y[i], color='#3366FF', lw=3, solid_capstyle='butt', zorder=4)

    fig.add_artist(Rectangle((lefts[c] / W, 1 - top / H), (rights[c] - lefts[c]) / W, (top - strip_top) / H,
                             transform=fig.transFigure, facecolor='#b3b3b3', edgecolor='#9a9a9a', lw=1))
    fig.text((lefts[c] + rights[c]) / 2 / W, 1 - ((strip_top + top) / 2 + 2.5) / H, titles[i], ha='center', va='center',
             fontsize=14, color='#555555')

fig.text(583 / W, 1 - 635 / H, 'Maximum diary variation of temperature (by week)', ha='center', va='center',
         fontsize=17.9, color='#333333', zorder=2)
fig.text(22 / W, 1 - 316 / H, 'Log-incidence rate per week (per 1000 inhab)', ha='center', va='center',
         rotation=90, fontsize=17.9, color='#333333', zorder=2)
fig.text(797 / W, 1 - 487 / H, 'Proof', ha='right', va='center', rotation=50, rotation_mode='anchor',
         fontsize=86, color='#eeeeee', zorder=5)

fig.savefig('out.png', dpi=100)
